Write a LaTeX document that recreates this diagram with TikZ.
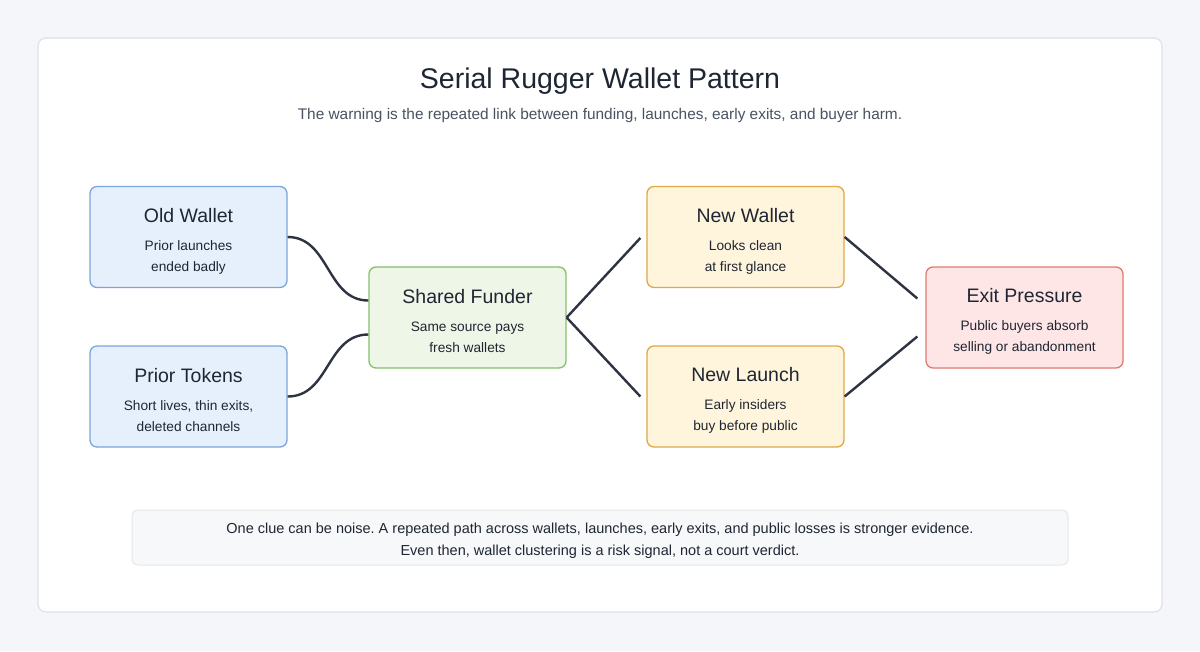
\documentclass[tikz,border=0pt]{standalone}
\usepackage{fontspec}
\setmainfont{Liberation Sans}
\usetikzlibrary{positioning,calc}
\frenchspacing

\definecolor{pagebg}{HTML}{F4F6F9}
\definecolor{cardline}{HTML}{DDE2EA}
\definecolor{inkdark}{HTML}{1F2633}
\definecolor{inkmid}{HTML}{4A5262}
\definecolor{wire}{HTML}{2D3340}
\definecolor{bluefill}{HTML}{E6F0FC}
\definecolor{blueline}{HTML}{7AA6DC}
\definecolor{greenfill}{HTML}{EEF6E8}
\definecolor{greenline}{HTML}{86C06C}
\definecolor{orangefill}{HTML}{FFF4DC}
\definecolor{orangeline}{HTML}{E0A84A}
\definecolor{redfill}{HTML}{FEE6E6}
\definecolor{redline}{HTML}{E07B70}
\definecolor{notefill}{HTML}{F6F8FA}
\definecolor{noteline}{HTML}{E3E7EC}

\newcommand{\boxtext}[3]{{\fontsize{19.5}{22}\selectfont\rule{0pt}{22pt}#1}\\[7pt]#2\\#3}

\begin{document}
\begin{tikzpicture}[
		x=1pt, y=-1pt,
		stage/.style={
			rectangle, rounded corners=7pt, line width=1.3pt, minimum width=197pt, minimum height=101pt,
			align=center, text=inkdark, font=\fontsize{13.7}{21}\selectfont, inner sep=0pt
		},
		old_stage/.style={stage, fill=bluefill, draw=blueline},
		fund_stage/.style={stage, fill=greenfill, draw=greenline},
		new_stage/.style={stage, fill=orangefill, draw=orangeline},
		exit_stage/.style={stage, fill=redfill, draw=redline},
		link/.style={draw=wire, line width=2.4pt}
		]
		
		% --- PAGE AND CARD ---
		\useasboundingbox (0,0) rectangle (1200,651);
		\fill[pagebg] (0,0) rectangle (1200,651);
		\draw[cardline, fill=white, line width=1.2pt, rounded corners=8pt] (38,38) rectangle (1162,612);
		
		% --- HEADING ---
		\node[text=inkdark, font=\fontsize{28.5}{32}\selectfont] (title) at (600,81) {Serial Rugger Wallet Pattern};
		\node[text=inkmid, font=\fontsize{15.4}{18}\selectfont] (subtitle) at (600,116)
			{The warning is the repeated link between funding, launches, early exits, and buyer harm.};
		
		% --- STAGES ---
		\node[old_stage] (old_wallet) at (188.5,237) {\boxtext{Old Wallet}{Prior launches}{ended badly}};
		\node[old_stage] (prior_tokens) at (188.5,396.5) {\boxtext{Prior Tokens}{Short lives, thin exits,}{deleted channels}};
		\node[fund_stage] (funder) at (467.5,317.5) {\boxtext{Shared Funder}{Same source pays}{fresh wallets}};
		\node[new_stage] (new_wallet) at (745.5,237) {\boxtext{New Wallet}{Looks clean}{at first glance}};
		\node[new_stage] (new_launch) at (745.5,396.5) {\boxtext{New Launch}{Early insiders}{buy before public}};
		\node[exit_stage] (exit) at (1024.5,317.5) {\boxtext{Exit Pressure}{Public buyers absorb}{selling or abandonment}};
		
		% --- NOTE ---
		\node[rectangle, rounded corners=6pt, fill=notefill, draw=noteline, line width=1pt,
			minimum width=936pt, minimum height=55pt, align=center, text=inkdark,
			font=\fontsize{14.5}{22}\selectfont] (note) at (600,537.5)
			{\rule{0pt}{16.5pt}One clue can be noise. A repeated path across wallets, launches, early exits, and public losses is stronger evidence.\\
			Even then, wallet clustering is a risk signal, not a court verdict.};
		
		% --- CONNECTIONS ---
		\draw[link] (old_wallet.east) .. controls ++(42,0) and ($(funder.west)+(-42,-17)$) .. ($(funder.west)+(0,-17)$);
		\draw[link] (prior_tokens.east) .. controls ++(42,0) and ($(funder.west)+(-42,17)$) .. ($(funder.west)+(0,17)$);
		\draw[link] (funder.east) -- ([xshift=-6pt,yshift=-1pt]new_wallet.west);
		\draw[link] (funder.east) -- ([xshift=-6pt]new_launch.west);
		\draw[link] (new_wallet.east) -- ([xshift=-8pt,yshift=19pt]exit.west);
		\draw[link] (new_launch.east) -- ([xshift=-8pt,yshift=-19pt]exit.west);
		
	\end{tikzpicture}
\end{document}
